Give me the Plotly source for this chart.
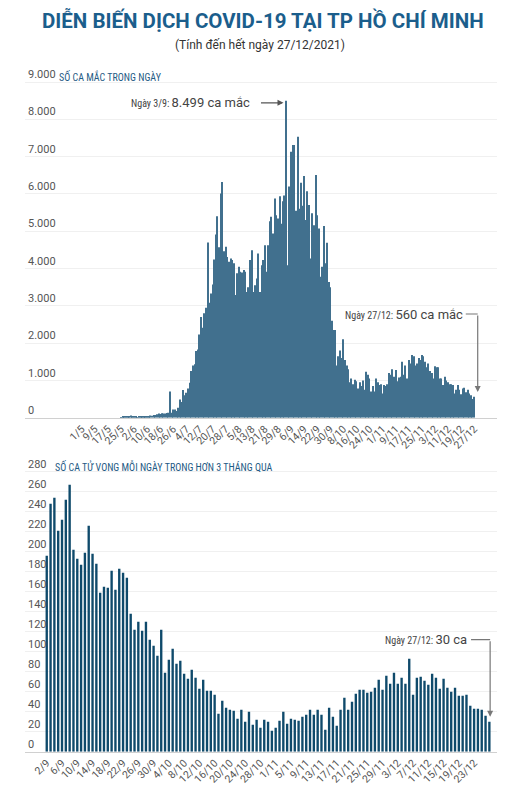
import pandas as pd
import plotly.graph_objects as go

# ---------------- data: daily new cases, 1/5 -> 27/12/2021 ----------------
cases_may = [0, 0, 0, 0, 0, 0, 0, 0, 0, 0, 0, 0, 0, 0, 0, 0, 0, 0, 0, 0, 0, 0, 0, 0,
             15, 20, 30, 25, 35, 40, 60]
cases_jun = [25, 20, 20, 15, 25, 30, 30, 35, 40, 35, 45, 60, 55, 70, 75, 95, 110, 100,
             120, 115, 110, 125, 130, 700, 130, 220, 220, 180, 270, 490]
cases_jul = [420, 740, 600, 670, 780, 940, 1250, 1400, 1430, 1790, 1830, 2230, 2700, 2410,
             2800, 2950, 4700, 3080, 3330, 3570, 4240, 4910, 5400, 4570, 6010, 6320, 4460,
             4580, 4310, 4180, 4270]
cases_aug = [4230, 4140, 3290, 3870, 4050, 3910, 3890, 3960, 3910, 3370, 3500, 4230, 4490,
             3370, 3550, 3730, 4400, 3370, 4090, 4230, 4620, 3910, 4620, 5270, 5390, 4940,
             5880, 5430, 5340, 5940, 5200]
cases_sep = [5800, 5960, 8499, 4090, 6200, 7130, 7310, 7310, 5550, 7530, 5600, 6300, 5680,
             6480, 5300, 6070, 5700, 4270, 5480, 5160, 6510, 5430, 5070, 3780, 4050, 5140,
             4140, 4690, 3640, 3500]
cases_oct = [2600, 2350, 2350, 1400, 1650, 1800, 1600, 2100, 1550, 1400, 1300, 950, 1050,
             900, 1020, 980, 780, 950, 850, 1000, 750, 1230, 1150, 1050, 700, 850, 700, 1050,
             950, 880, 900]
cases_nov = [650, 880, 850, 900, 1200, 1150, 1300, 1100, 1280, 980, 1080, 1100, 1500, 1150,
             1400, 1050, 1550, 1450, 1680, 1650, 1400, 1450, 1600, 1550, 1680, 1650, 1500,
             1350, 1450, 1250]
cases_dec = [1200, 1050, 1380, 1350, 1350, 1050, 1050, 880, 1100, 1000, 950, 900, 900, 880,
             650, 750, 880, 750, 630, 780, 800, 680, 750, 650, 600, 500, 560]

cases = cases_may + cases_jun + cases_jul + cases_aug + cases_sep + cases_oct + cases_nov + cases_dec
case_days = [f"{d.day}/{d.month}" for d in pd.date_range("2021-05-01", "2021-12-27")]
case_ticks = ["1/5", "9/5", "17/5", "25/5", "2/6", "10/6", "18/6", "26/6", "4/7", "12/7",
              "20/7", "28/7", "5/8", "13/8", "21/8", "29/8", "6/9", "14/9", "22/9", "30/9",
              "8/10", "16/10", "24/10", "1/11", "9/11", "17/11", "25/11", "3/12", "11/12",
              "19/12", "27/12"]
case_yticks = [0, 1000, 2000, 3000, 4000, 5000, 6000, 7000, 8000, 9000]
case_yticktext = ["0", "1.000", "2.000", "3.000", "4.000", "5.000", "6.000", "7.000", "8.000", "9.000"]

# ---------------- data: daily deaths, 2/9 -> 27/12/2021 ----------------
deaths_sep = [196, 248, 254, 221, 232, 252, 267, 202, 193, 187, 199, 226, 198, 188, 159, 165,
              164, 181, 162, 183, 179, 174, 138, 122, 130, 121, 130, 112, 106]
deaths_oct = [96, 122, 79, 92, 103, 88, 91, 78, 73, 82, 74, 63, 72, 61, 61, 57, 38, 51, 44,
              42, 41, 33, 42, 30, 40, 27, 32, 24, 32, 30, 21]
deaths_nov = [24, 31, 40, 28, 33, 32, 31, 35, 37, 42, 37, 42, 37, 22, 44, 35, 26, 42, 54, 42,
              50, 58, 62, 62, 59, 60, 64, 72, 62, 76]
deaths_dec = [68, 79, 68, 74, 68, 93, 57, 74, 75, 71, 67, 78, 74, 63, 73, 64, 60, 64, 56, 56,
              57, 46, 43, 43, 42, 36, 30]

deaths = deaths_sep + deaths_oct + deaths_nov + deaths_dec
death_days = [f"{d.day}/{d.month}" for d in pd.date_range("2021-09-02", "2021-12-27")]
death_ticks = ["2/9", "6/9", "10/9", "14/9", "18/9", "22/9", "26/9", "30/9", "4/10", "8/10",
               "12/10", "16/10", "20/10", "24/10", "28/10", "1/11", "5/11", "9/11", "13/11",
               "17/11", "21/11", "25/11", "29/11", "3/12", "7/12", "11/12", "15/12", "19/12",
               "23/12"]
death_yticks = list(range(0, 281, 20))

# ---------------- figure ----------------
W, H = 507, 794
FONT = "Roboto, Arial, sans-serif"
NARROW = "Roboto Condensed, Liberation Sans Narrow, DejaVu Sans Condensed, Roboto, sans-serif"
TICK = dict(family=FONT, size=11, color="#555555")

fig = go.Figure()
fig.add_trace(go.Bar(x=case_days, y=cases, marker=dict(color="#41708e", line=dict(width=0)),
                     xaxis="x", yaxis="y", hoverinfo="x+y"))
fig.add_trace(go.Bar(x=death_days, y=deaths, marker=dict(color="#0f4a6b", line=dict(width=0)),
                     xaxis="x2", yaxis="y2", hoverinfo="x+y"))

n_c = len(case_days)
n_d = len(death_days)

# top chart: 37.3 px per 1000, baseline at 417.7 px; extra headroom for the top label
top_base, top_ppu = 417.7, 37.3 / 1000
top_max = 9400
bot_base, bot_ppu = 751.7, 1.0
bot_max = 295

fig.update_layout(
    width=W, height=H,
    margin=dict(l=25, r=10, t=0, b=0),
    paper_bgcolor="white", plot_bgcolor="white",
    showlegend=False, bargap=0.38,
    font=dict(family=FONT, color="#444"),
    xaxis=dict(domain=[0, 1], anchor="y", type="category", range=[-34.7, n_c + 13],
               tickmode="array", tickvals=case_ticks, ticktext=case_ticks, tickangle=-45,
               tickfont=dict(family=FONT, size=10.5, color="#555"), showgrid=False,
               showline=True, linecolor="#d0d0d0", linewidth=1, ticks="", fixedrange=True,
               automargin=False, ticklabeloverflow="allow"),
    yaxis=dict(domain=[1 - top_base / H, 1 - (top_base - top_max * top_ppu) / H], anchor="x",
               range=[0, top_max],
               tickmode="array", tickvals=case_yticks, ticktext=case_yticktext,
               ticklabelposition="inside top", tickfont=TICK, showgrid=True,
               gridcolor="#f0f0f0", gridwidth=1, zeroline=False, ticks="", fixedrange=True,
               automargin=False, ticklabeloverflow="allow"),
    xaxis2=dict(domain=[0, 1], anchor="y2", type="category", range=[-5.7, n_d + 1],
                tickmode="array", tickvals=death_ticks, ticktext=death_ticks, tickangle=-45,
                tickfont=dict(family=FONT, size=10.5, color="#555"), showgrid=False,
                showline=True, linecolor="#d0d0d0", linewidth=1, ticks="", fixedrange=True,
                automargin=False, ticklabeloverflow="allow"),
    yaxis2=dict(domain=[1 - bot_base / H, 1 - (bot_base - bot_max * bot_ppu) / H], anchor="x2",
                range=[0, bot_max],
                tickmode="array", tickvals=death_yticks,
                ticklabelposition="inside top", tickfont=TICK, showgrid=True,
                gridcolor="#f0f0f0", gridwidth=1, zeroline=False, ticks="", fixedrange=True,
                automargin=False, ticklabeloverflow="allow"),
)

L, R = 25, 10

def px_x(px):  # paper x from pixel
    return (px - L) / (W - L - R)

def px_y(py):  # paper y from pixel (top-based)
    return 1 - py / H

annotations = [
    dict(text="<b>DIỄN BIẾN DỊCH COVID-19 TẠI TP HỒ CHÍ MINH</b>", xref="paper", yref="paper",
         x=px_x(263), y=px_y(20.5), xanchor="center", yanchor="middle", showarrow=False,
         font=dict(family=FONT, size=20.5, color="#1b5e8c")),
    dict(text="(Tính đến hết ngày 27/12/2021)", xref="paper", yref="paper",
         x=px_x(260), y=px_y(45), xanchor="center", yanchor="middle", showarrow=False,
         font=dict(family=FONT, size=12, color="#333")),
    dict(text="SỐ CA MẮC TRONG NGÀY", xref="paper", yref="paper",
         x=px_x(57), y=px_y(76), xanchor="left", yanchor="middle", showarrow=False,
         font=dict(family=NARROW, size=10, color="#1f5b85")),
    dict(text="SỐ CA TỬ VONG MỖI NGÀY TRONG HƠN 3 THÁNG QUA", xref="paper", yref="paper",
         x=px_x(53), y=px_y(466), xanchor="left", yanchor="middle", showarrow=False,
         font=dict(family=NARROW, size=10, color="#1f5b85")),
    # peak annotation
    dict(text=f'<span style="font-family:{NARROW};font-size:10px">Ngày 3/9: </span>8.499 ca mắc',
         xref="x", yref="y", x=104, y=8442, xanchor="right", yanchor="middle", showarrow=False,
         font=dict(family=FONT, size=13, color="#444")),
    dict(text="", xref="x", yref="y", x=123.4, y=8442, ax=-24, ay=0, showarrow=True,
         arrowhead=2, arrowsize=1, arrowwidth=1.2, arrowcolor="#555"),
    # last-day cases annotation
    dict(text=f'<span style="font-family:{NARROW};font-size:10px">Ngày 27/12: </span>560 ca mắc',
         xref="x", yref="y", x=234.4, y=2780, xanchor="right", yanchor="middle", showarrow=False,
         font=dict(family=FONT, size=13, color="#444")),
    dict(text="", xref="x", yref="y", x=242.2, y=690, ax=0, ay=-78, showarrow=True,
         arrowhead=2, arrowsize=1, arrowwidth=1.2, arrowcolor="#777"),
    # last-day deaths annotation
    dict(text=f'<span style="font-family:{NARROW};font-size:10px">Ngày 27/12: </span>30 ca',
         xref="x2", yref="y2", x=110.7, y=112, xanchor="right", yanchor="middle", showarrow=False,
         font=dict(family=FONT, size=13, color="#444")),
    dict(text="", xref="x2", yref="y2", x=116.2, y=35, ax=0, ay=-77, showarrow=True,
         arrowhead=2, arrowsize=1, arrowwidth=1.2, arrowcolor="#777"),
]
fig.update_layout(annotations=annotations)

fig.add_shape(type="line", xref="x", yref="y", x0=234.9, x1=242.2, y0=2780, y1=2780,
              line=dict(color="#777", width=1.2))
fig.add_shape(type="line", xref="x2", yref="y2", x0=111.2, x1=116.2, y0=112, y1=112,
              line=dict(color="#777", width=1.2))

fig.write_html("out.html", config={"displayModeBar": False},
               post_script="document.body.style.margin='0';document.body.style.overflow='hidden';")
